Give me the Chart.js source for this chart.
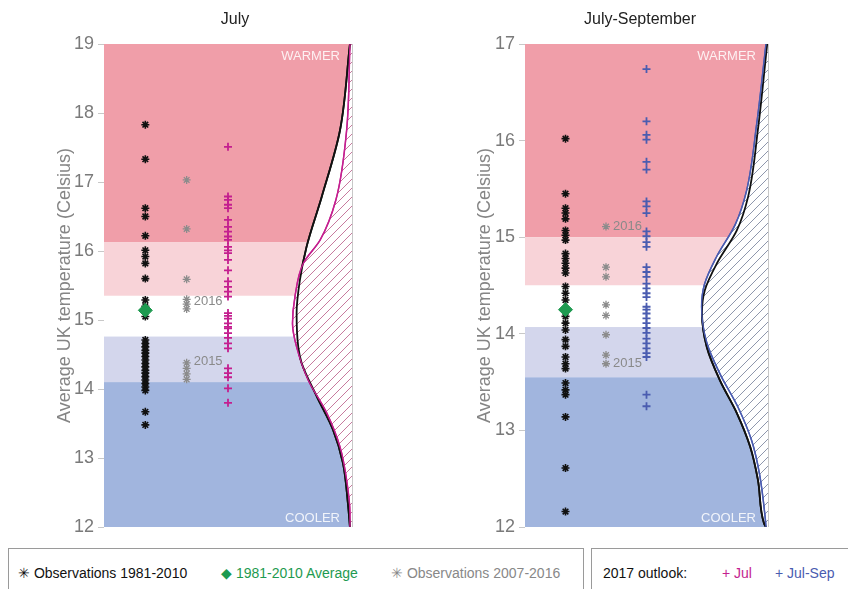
<!DOCTYPE html>
<html>
<head>
<meta charset="utf-8">
<script src="https://cdn.jsdelivr.net/npm/chart.js@4.4.0/dist/chart.umd.min.js"></script>
<style>
  body { margin: 0; background: #fff; width: 848px; height: 589px; overflow: hidden; position: relative; font-family: "Liberation Sans", Arial, sans-serif; }
  .wrap { position: absolute; top: 0; width: 424px; height: 545px; }
  .ttl { position: absolute; top: 10px; font-size: 16px; color: #222; transform: translateX(-50%); white-space: nowrap; }
  .legend { position: absolute; top: 548px; height: 60px; border: 1.5px solid #9a9a9a; box-sizing: border-box; font-family: "Liberation Sans Narrow", "Liberation Sans", sans-serif; font-size: 14px; }
  .legend span { position: absolute; top: 16px; white-space: nowrap; }
</style>
</head>
<body>
<div class="wrap" style="left:0"><canvas id="julChart"></canvas></div>
<div class="wrap" style="left:424px"><canvas id="jasChart"></canvas></div>
<div class="ttl" style="left:235px">July</div>
<div class="ttl" style="left:640px">July-September</div>

<div class="legend" style="left:8px;width:576px">
  <span style="left:9px;color:#111">&#10035; Observations 1981-2010</span>
  <span style="left:212px;color:#1e9a50">&#9670; 1981-2010 Average</span>
  <span style="left:382px;color:#888">&#10035; Observations 2007-2016</span>
</div>
<div class="legend" style="left:591px;width:270px">
  <span style="left:11px;color:#111">2017 outlook:</span>
  <span style="left:130px;color:#c41f8f">+ Jul</span>
  <span style="left:183px;color:#4a5cb0">+ Jul-Sep</span>
</div>

<script>
// July panel
const julObs = [17.83, 17.33, 16.62, 16.50, 16.22, 16.01, 15.92, 15.82, 15.60, 15.29, 15.20, 15.05,
  14.71, 14.66, 14.61, 14.56, 14.52, 14.47, 14.42, 14.37, 14.32, 14.27, 14.23, 14.18, 14.13, 14.08,
  14.03, 13.98, 13.67, 13.48];
const julRecent = [17.03, 16.32, 15.59, 15.30, 15.23, 15.16, 14.38, 14.30, 14.22, 14.14];
const julAvg = [15.14];
const julOutlook = [17.51, 16.79, 16.74, 16.67, 16.62, 16.45, 16.35, 16.28, 16.21, 16.16, 16.06, 16.01,
  15.97, 15.87, 15.72, 15.56, 15.48, 15.41, 15.34, 15.10, 15.06, 15.02, 14.95, 14.90, 14.88, 14.81,
  14.74, 14.66, 14.59, 14.30, 14.23, 14.17, 14.01, 13.80];
const julBands = [19, 16.13, 15.35, 14.76, 14.10, 12];
const julYearLabels = ['2016', '2015'];
const julYearValues = [15.27, 14.40];

// climatology / outlook curves: temperature and distance across the panel (0-6)
const julClimT = [12.0, 12.35, 12.93, 13.41, 13.89, 14.38, 14.61, 15.10, 15.58, 16.06, 16.79, 17.75, 19.0];
const julClimW = [5.95, 5.90, 5.78, 5.54, 5.15, 4.78, 4.70, 4.66, 4.74, 4.90, 5.27, 5.71, 5.95];
const julOutT = [12.0, 12.2, 12.68, 13.16, 13.65, 14.13, 14.61, 14.95, 15.34, 15.82, 16.16, 16.74, 17.75, 19.0];
const julOutW = [5.95, 5.95, 5.87, 5.71, 5.39, 4.94, 4.66, 4.56, 4.62, 4.82, 5.23, 5.61, 5.87, 5.95];

// July-September panel
const jasObs = [16.02, 15.45, 15.30, 15.25, 15.19, 15.07, 15.02, 14.97, 14.83, 14.78, 14.73, 14.68,
  14.63, 14.49, 14.42, 14.35, 14.18, 14.11, 14.04, 13.94, 13.87, 13.76, 13.69, 13.64, 13.49, 13.42,
  13.37, 13.14, 12.61, 12.16];
const jasRecent = [15.11, 14.69, 14.59, 14.30, 14.19, 13.99, 13.78, 13.69];
const jasAvg = [14.25];
const jasOutlook = [16.74, 16.20, 16.06, 16.01, 15.78, 15.70, 15.37, 15.32, 15.25, 15.06, 15.01, 14.95,
  14.90, 14.69, 14.64, 14.59, 14.52, 14.47, 14.42, 14.38, 14.28, 14.25, 14.21, 14.16, 14.11, 14.06,
  14.01, 13.95, 13.90, 13.85, 13.80, 13.76, 13.37, 13.25];
const jasBands = [17, 15.0, 14.5, 14.07, 13.55, 12];
const jasYearLabels = ['2016', '2015'];
const jasYearValues = [15.11, 13.69];

const jasClimT = [12.0, 12.04, 12.49, 12.83, 13.18, 13.52, 13.86, 14.22, 14.45, 14.73, 15.07, 15.42, 16.11, 17.0];
const jasClimW = [5.95, 5.90, 5.75, 5.56, 5.23, 4.81, 4.49, 4.37, 4.44, 4.74, 5.23, 5.51, 5.75, 5.98];
const jasOutT = [12.0, 12.10, 12.55, 12.89, 13.24, 13.58, 13.92, 14.28, 14.51, 14.79, 15.13, 15.48, 16.17, 17.0];
const jasOutW = [5.95, 5.93, 5.79, 5.60, 5.26, 4.82, 4.48, 4.36, 4.43, 4.72, 5.19, 5.47, 5.72, 5.95];

const bandColors = ['#f09ea9', '#f8d3d8', '#ffffff', '#d3d6ec', '#a1b5de'];

function hatch(color) {
  const c = document.createElement('canvas');
  c.width = 9; c.height = 9;
  const g = c.getContext('2d');
  g.fillStyle = '#fff';
  g.fillRect(0, 0, 9, 9);
  g.strokeStyle = color;
  g.lineWidth = 1;
  g.beginPath();
  g.moveTo(-1, 10); g.lineTo(10, -1);
  g.moveTo(-1, 1); g.lineTo(1, -1);
  g.moveTo(8, 10); g.lineTo(10, 8);
  g.stroke();
  return g.createPattern(c, 'repeat');
}

const bandPlugin = {
  id: 'bands',
  beforeDatasetsDraw(chart, args, opts) {
    const { ctx, chartArea: a, scales: { y } } = chart;
    const b = opts.bounds;
    ctx.save();
    for (let i = 0; i < b.length - 1; i++) {
      const t = y.getPixelForValue(b[i]);
      const bt = y.getPixelForValue(b[i + 1]);
      ctx.fillStyle = bandColors[i];
      ctx.fillRect(a.left, t, a.right - a.left, bt - t);
    }
    ctx.fillStyle = 'rgba(255,255,255,0.85)';
    ctx.font = '13px "Liberation Sans", Arial, sans-serif';
    ctx.textAlign = 'right';
    ctx.textBaseline = 'middle';
    ctx.fillText('WARMER', a.right - 12, a.top + 12);
    ctx.fillText('COOLER', a.right - 12, a.bottom - 9);
    ctx.restore();
  },
  afterDatasetsDraw(chart, args, opts) {
    const { ctx, chartArea: a, scales: { x, y } } = chart;
    ctx.save();
    ctx.strokeStyle = '#c8c8c8';
    ctx.lineWidth = 1;
    ctx.beginPath();
    ctx.moveTo(a.right + 0.5, a.top);
    ctx.lineTo(a.right + 0.5, a.bottom);
    ctx.stroke();
    ctx.fillStyle = '#8a8a8a';
    ctx.font = '13px "Liberation Sans Narrow", "Liberation Sans", sans-serif';
    ctx.textAlign = 'left';
    ctx.textBaseline = 'middle';
    opts.labels.forEach((t, i) => {
      ctx.fillText(t, x.getPixelForValue(2) + 7, y.getPixelForValue(opts.labelValues[i]));
    });
    ctx.restore();
  }
};

function column(values, col) {
  return values.map(v => ({ x: col, y: v }));
}
function curve(ts, ws) {
  return ts.map((t, i) => ({ x: ws[i], y: t }));
}

function makePanel(id, p) {
  const ctx = document.getElementById(id).getContext('2d');
  return new Chart(ctx, {
    type: 'line',
    data: {
      datasets: [
        { data: curve(p.climT, p.climW), borderColor: '#111', borderWidth: 1.8, pointRadius: 0,
          fill: 'end', backgroundColor: '#ffffff', cubicInterpolationMode: 'monotone', order: 6 },
        { data: curve(p.outT, p.outW), borderColor: p.outColor, borderWidth: 1.5, pointRadius: 0,
          fill: 'end', backgroundColor: hatch(p.hatchColor), cubicInterpolationMode: 'monotone', order: 5 },
        { data: curve(p.climT, p.climW), borderColor: '#111', borderWidth: 1.8, pointRadius: 0,
          fill: false, cubicInterpolationMode: 'monotone', order: 4 },
        { data: curve(p.outT, p.outW), borderColor: p.outColor, borderWidth: 1.3, pointRadius: 0,
          fill: false, cubicInterpolationMode: 'monotone', order: 3 },
        { data: column(p.obs, 1), showLine: false, pointStyle: 'star', pointRadius: 4,
          borderColor: '#111', borderWidth: 1.6, order: 2 },
        { data: column(p.recent, 2), showLine: false, pointStyle: 'star', pointRadius: 4,
          borderColor: '#8c8c8c', borderWidth: 1.3, order: 2 },
        { data: column(p.outlook, 3), showLine: false, pointStyle: 'cross', pointRadius: 4,
          borderColor: p.outColor, borderWidth: 1.8, order: 2 },
        { data: column(p.avg, 1), showLine: false, pointStyle: 'rectRot', pointRadius: 7,
          backgroundColor: '#1e9a50', borderColor: '#1e9a50', borderWidth: 1, order: 1 }
      ]
    },
    options: {
      indexAxis: 'y',
      responsive: false,
      animation: false,
      layout: { padding: { left: p.padLeft, right: p.padRight, top: 44, bottom: 18 } },
      plugins: {
        legend: { display: false },
        tooltip: { enabled: false },
        bands: { bounds: p.bands, labels: p.yearLabels, labelValues: p.yearValues }
      },
      scales: {
        x: { type: 'linear', display: false, min: 0, max: 6 },
        y: {
          type: 'linear', min: p.min, max: p.max,
          afterFit(s) { s.width = p.axisWidth; },
          ticks: { stepSize: 1, color: '#7a7a7a', font: { size: 18, family: '"Liberation Sans", Arial, sans-serif' }, padding: 4 },
          grid: { drawOnChartArea: false, drawTicks: true, tickLength: 6, color: '#c8c8c8' },
          border: { display: false },
          title: { display: true, text: 'Average UK temperature (Celsius)', color: '#858585',
            font: { size: 18, family: '"Liberation Sans", Arial, sans-serif' } }
        }
      }
    },
    plugins: [bandPlugin]
  });
}

document.getElementById('julChart').width = 424;
document.getElementById('julChart').height = 545;
document.getElementById('jasChart').width = 424;
document.getElementById('jasChart').height = 545;

makePanel('julChart', {
  obs: julObs, recent: julRecent, avg: julAvg, outlook: julOutlook, bands: julBands,
  climT: julClimT, climW: julClimW, outT: julOutT, outW: julOutW,
  yearLabels: julYearLabels, yearValues: julYearValues,
  outColor: '#c41f8f', hatchColor: '#c77a9e', min: 12, max: 19,
  padLeft: 50, padRight: 72, axisWidth: 54
});
makePanel('jasChart', {
  obs: jasObs, recent: jasRecent, avg: jasAvg, outlook: jasOutlook, bands: jasBands,
  climT: jasClimT, climW: jasClimW, outT: jasOutT, outW: jasOutW,
  yearLabels: jasYearLabels, yearValues: jasYearValues,
  outColor: '#4a5cb0', hatchColor: '#8f97ad', min: 12, max: 17,
  padLeft: 46, padRight: 80, axisWidth: 55
});
</script>
</body>
</html>
